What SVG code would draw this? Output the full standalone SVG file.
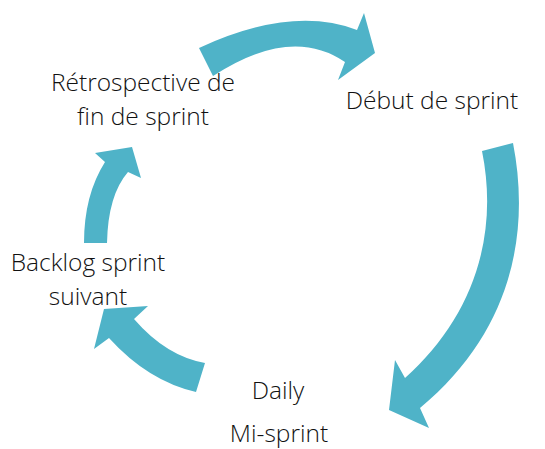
<svg xmlns="http://www.w3.org/2000/svg" width="545" height="449" viewBox="0 0 545 449">
<style>
.arr{fill:#4FB3C8;stroke:none}
.lbl{font-family:"Open Sans","Noto Sans","Liberation Sans",sans-serif;font-weight:300;font-size:24.5px;fill:#111;text-anchor:middle}
</style>
<rect width="545" height="449" fill="#fff"/>
<g id="connectors">
<path class="arr" d="M199,48 Q292,5 357,30 L364,13 L375,53 L338,80 L345,62 Q291,25 213,76 Z"/>
<path class="arr" d="M482,151 L513,143 C530,230 514,330 420,408 L429,428 L389,410 L395,360 L405,378 C470,320 500,240 482,151 Z"/>
<path class="arr" d="M205,363 Q166,356 134,319 L148,306 L104,309 L94,349 L109,338 Q148,381 196,392 Z"/>
<path class="arr" d="M84,243 Q84,195 105,162 L95,153 L132,147 L141,178 L128,172 Q108,195 107,243 Z"/>
</g>
<g id="node-retro"><text class="lbl" x="143" y="91">Rétrospective de</text><text class="lbl" x="143" y="125">fin de sprint</text></g>
<g id="node-debut"><text class="lbl" x="432" y="109">Début de sprint</text></g>
<g id="node-daily"><text class="lbl" x="278" y="399">Daily</text><text class="lbl" x="279" y="442">Mi-sprint</text></g>
<g id="node-backlog"><text class="lbl" x="88" y="271">Backlog sprint</text><text class="lbl" x="88" y="305">suivant</text></g>
</svg>
